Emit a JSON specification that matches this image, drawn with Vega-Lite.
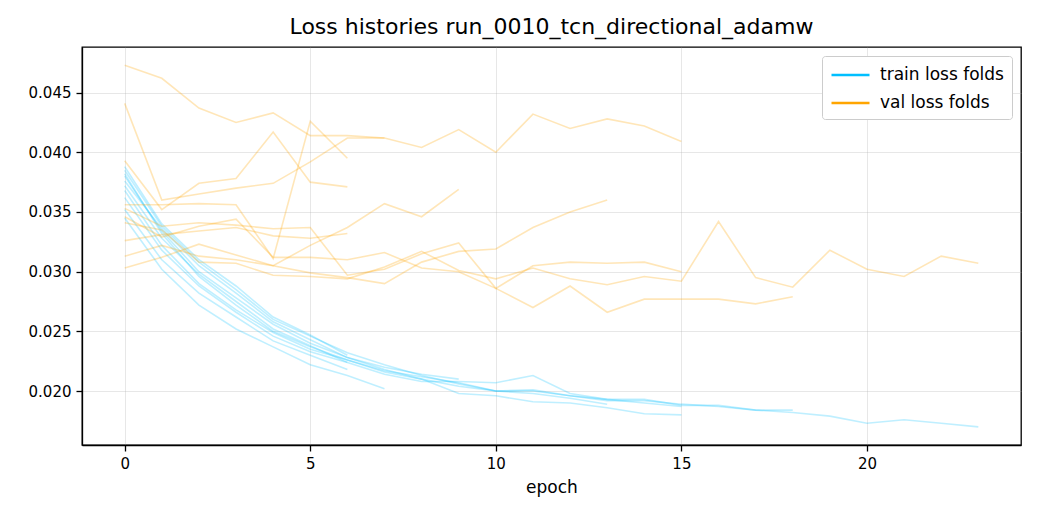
{
  "$schema": "https://vega.github.io/schema/vega-lite/v6.json",
  "width": 939,
  "height": 398,
  "autosize": {"type": "none"},
  "padding": {"left": 82, "top": 47, "right": 19, "bottom": 75},
  "title": {"text": "Loss histories run_0010_tcn_directional_adamw", "fontSize": 22, "fontWeight": "normal", "color": "black", "frame": "group", "offset": 8},
  "datasets": {
    "train": [
      {"fold":1,"epoch":0,"loss":0.0380},{"fold":1,"epoch":1,"loss":0.0334},{"fold":1,"epoch":2,"loss":0.0300},{"fold":1,"epoch":3,"loss":0.0278},{"fold":1,"epoch":4,"loss":0.0256},{"fold":1,"epoch":5,"loss":0.0240},{"fold":1,"epoch":6,"loss":0.0228},{"fold":1,"epoch":7,"loss":0.0218},{"fold":1,"epoch":8,"loss":0.0210},{"fold":1,"epoch":9,"loss":0.0198},{"fold":1,"epoch":10,"loss":0.0196},{"fold":1,"epoch":11,"loss":0.0191},{"fold":1,"epoch":12,"loss":0.0190},{"fold":1,"epoch":13,"loss":0.0186},{"fold":1,"epoch":14,"loss":0.0181},{"fold":1,"epoch":15,"loss":0.0180},
      {"fold":2,"epoch":0,"loss":0.0345},{"fold":2,"epoch":1,"loss":0.0302},{"fold":2,"epoch":2,"loss":0.0272},{"fold":2,"epoch":3,"loss":0.0252},{"fold":2,"epoch":4,"loss":0.0237},{"fold":2,"epoch":5,"loss":0.0222},{"fold":2,"epoch":6,"loss":0.0213},{"fold":2,"epoch":7,"loss":0.0202},
      {"fold":3,"epoch":0,"loss":0.0388},{"fold":3,"epoch":1,"loss":0.0340},{"fold":3,"epoch":2,"loss":0.0310},{"fold":3,"epoch":3,"loss":0.0288},{"fold":3,"epoch":4,"loss":0.0262},{"fold":3,"epoch":5,"loss":0.0247},{"fold":3,"epoch":6,"loss":0.0230},
      {"fold":4,"epoch":0,"loss":0.0372},{"fold":4,"epoch":1,"loss":0.0328},{"fold":4,"epoch":2,"loss":0.0298},{"fold":4,"epoch":3,"loss":0.0275},{"fold":4,"epoch":4,"loss":0.0252},{"fold":4,"epoch":5,"loss":0.0238},{"fold":4,"epoch":6,"loss":0.0224},
      {"fold":5,"epoch":0,"loss":0.0352},{"fold":5,"epoch":1,"loss":0.0310},{"fold":5,"epoch":2,"loss":0.0282},{"fold":5,"epoch":3,"loss":0.0262},{"fold":5,"epoch":4,"loss":0.0242},{"fold":5,"epoch":5,"loss":0.0230},{"fold":5,"epoch":6,"loss":0.0218},
      {"fold":6,"epoch":0,"loss":0.0376},{"fold":6,"epoch":1,"loss":0.0336},{"fold":6,"epoch":2,"loss":0.0305},{"fold":6,"epoch":3,"loss":0.0282},{"fold":6,"epoch":4,"loss":0.0258},{"fold":6,"epoch":5,"loss":0.0243},{"fold":6,"epoch":6,"loss":0.0228},{"fold":6,"epoch":7,"loss":0.0220},{"fold":6,"epoch":8,"loss":0.0214},{"fold":6,"epoch":9,"loss":0.0210},
      {"fold":7,"epoch":0,"loss":0.0385},{"fold":7,"epoch":1,"loss":0.0338},{"fold":7,"epoch":2,"loss":0.0308},{"fold":7,"epoch":3,"loss":0.0285},{"fold":7,"epoch":4,"loss":0.0260},{"fold":7,"epoch":5,"loss":0.0246},{"fold":7,"epoch":6,"loss":0.0232},{"fold":7,"epoch":7,"loss":0.0222},{"fold":7,"epoch":8,"loss":0.0213},{"fold":7,"epoch":9,"loss":0.0206},{"fold":7,"epoch":10,"loss":0.0200},{"fold":7,"epoch":11,"loss":0.0198},{"fold":7,"epoch":12,"loss":0.0194},{"fold":7,"epoch":13,"loss":0.0189},
      {"fold":8,"epoch":0,"loss":0.0382},{"fold":8,"epoch":1,"loss":0.0332},{"fold":8,"epoch":2,"loss":0.0296},{"fold":8,"epoch":3,"loss":0.0272},{"fold":8,"epoch":4,"loss":0.0250},{"fold":8,"epoch":5,"loss":0.0237},{"fold":8,"epoch":6,"loss":0.0226},{"fold":8,"epoch":7,"loss":0.0217},{"fold":8,"epoch":8,"loss":0.0212},{"fold":8,"epoch":9,"loss":0.0207},{"fold":8,"epoch":10,"loss":0.0200},{"fold":8,"epoch":11,"loss":0.0201},{"fold":8,"epoch":12,"loss":0.0196},{"fold":8,"epoch":13,"loss":0.0193},{"fold":8,"epoch":14,"loss":0.0193},{"fold":8,"epoch":15,"loss":0.0188},{"fold":8,"epoch":16,"loss":0.0188},{"fold":8,"epoch":17,"loss":0.0184},{"fold":8,"epoch":18,"loss":0.0184},
      {"fold":9,"epoch":0,"loss":0.0368},{"fold":9,"epoch":1,"loss":0.0322},{"fold":9,"epoch":2,"loss":0.0290},{"fold":9,"epoch":3,"loss":0.0268},{"fold":9,"epoch":4,"loss":0.0249},{"fold":9,"epoch":5,"loss":0.0235},{"fold":9,"epoch":6,"loss":0.0226},{"fold":9,"epoch":7,"loss":0.0216},{"fold":9,"epoch":8,"loss":0.0210},{"fold":9,"epoch":9,"loss":0.0204},{"fold":9,"epoch":10,"loss":0.0200},{"fold":9,"epoch":11,"loss":0.0200},{"fold":9,"epoch":12,"loss":0.0196},{"fold":9,"epoch":13,"loss":0.0192},{"fold":9,"epoch":14,"loss":0.0192},{"fold":9,"epoch":15,"loss":0.0189},{"fold":9,"epoch":16,"loss":0.0187},{"fold":9,"epoch":17,"loss":0.0184},{"fold":9,"epoch":18,"loss":0.0182},{"fold":9,"epoch":19,"loss":0.0179},{"fold":9,"epoch":20,"loss":0.0173},{"fold":9,"epoch":21,"loss":0.0176},{"fold":9,"epoch":22,"loss":0.0173},{"fold":9,"epoch":23,"loss":0.0170},
      {"fold":10,"epoch":0,"loss":0.0362},{"fold":10,"epoch":1,"loss":0.0318},{"fold":10,"epoch":2,"loss":0.0288},{"fold":10,"epoch":3,"loss":0.0266},{"fold":10,"epoch":4,"loss":0.0246},{"fold":10,"epoch":5,"loss":0.0233},{"fold":10,"epoch":6,"loss":0.0224},{"fold":10,"epoch":7,"loss":0.0214},{"fold":10,"epoch":8,"loss":0.0208},{"fold":10,"epoch":9,"loss":0.0208},{"fold":10,"epoch":10,"loss":0.0207},{"fold":10,"epoch":11,"loss":0.0213},{"fold":10,"epoch":12,"loss":0.0198},{"fold":10,"epoch":13,"loss":0.0193},{"fold":10,"epoch":14,"loss":0.0190},{"fold":10,"epoch":15,"loss":0.0187}
    ],
    "val": [
      {"fold":1,"epoch":0,"loss":0.0473},{"fold":1,"epoch":1,"loss":0.0462},{"fold":1,"epoch":2,"loss":0.0437},{"fold":1,"epoch":3,"loss":0.0425},{"fold":1,"epoch":4,"loss":0.0433},{"fold":1,"epoch":5,"loss":0.0414},{"fold":1,"epoch":6,"loss":0.0414},{"fold":1,"epoch":7,"loss":0.0412},{"fold":1,"epoch":8,"loss":0.0404},{"fold":1,"epoch":9,"loss":0.0419},{"fold":1,"epoch":10,"loss":0.0400},{"fold":1,"epoch":11,"loss":0.0432},{"fold":1,"epoch":12,"loss":0.0420},{"fold":1,"epoch":13,"loss":0.0428},{"fold":1,"epoch":14,"loss":0.0422},{"fold":1,"epoch":15,"loss":0.0409},
      {"fold":2,"epoch":0,"loss":0.0441},{"fold":2,"epoch":1,"loss":0.0360},{"fold":2,"epoch":2,"loss":0.0365},{"fold":2,"epoch":3,"loss":0.0370},{"fold":2,"epoch":4,"loss":0.0374},{"fold":2,"epoch":5,"loss":0.0392},{"fold":2,"epoch":6,"loss":0.0412},{"fold":2,"epoch":7,"loss":0.0412},
      {"fold":3,"epoch":0,"loss":0.0393},{"fold":3,"epoch":1,"loss":0.0352},{"fold":3,"epoch":2,"loss":0.0374},{"fold":3,"epoch":3,"loss":0.0378},{"fold":3,"epoch":4,"loss":0.0417},{"fold":3,"epoch":5,"loss":0.0375},{"fold":3,"epoch":6,"loss":0.0371},
      {"fold":4,"epoch":0,"loss":0.0356},{"fold":4,"epoch":1,"loss":0.0356},{"fold":4,"epoch":2,"loss":0.0357},{"fold":4,"epoch":3,"loss":0.0356},{"fold":4,"epoch":4,"loss":0.0311},{"fold":4,"epoch":5,"loss":0.0426},{"fold":4,"epoch":6,"loss":0.0395},
      {"fold":5,"epoch":0,"loss":0.0326},{"fold":5,"epoch":1,"loss":0.0331},{"fold":5,"epoch":2,"loss":0.0334},{"fold":5,"epoch":3,"loss":0.0337},{"fold":5,"epoch":4,"loss":0.0330},{"fold":5,"epoch":5,"loss":0.0328},{"fold":5,"epoch":6,"loss":0.0332},
      {"fold":6,"epoch":0,"loss":0.0303},{"fold":6,"epoch":1,"loss":0.0312},{"fold":6,"epoch":2,"loss":0.0323},{"fold":6,"epoch":3,"loss":0.0314},{"fold":6,"epoch":4,"loss":0.0305},{"fold":6,"epoch":5,"loss":0.0322},{"fold":6,"epoch":6,"loss":0.0337},{"fold":6,"epoch":7,"loss":0.0357},{"fold":6,"epoch":8,"loss":0.0346},{"fold":6,"epoch":9,"loss":0.0369},
      {"fold":7,"epoch":0,"loss":0.0313},{"fold":7,"epoch":1,"loss":0.0322},{"fold":7,"epoch":2,"loss":0.0313},{"fold":7,"epoch":3,"loss":0.0310},{"fold":7,"epoch":4,"loss":0.0305},{"fold":7,"epoch":5,"loss":0.0299},{"fold":7,"epoch":6,"loss":0.0295},{"fold":7,"epoch":7,"loss":0.0290},{"fold":7,"epoch":8,"loss":0.0308},{"fold":7,"epoch":9,"loss":0.0317},{"fold":7,"epoch":10,"loss":0.0319},{"fold":7,"epoch":11,"loss":0.0337},{"fold":7,"epoch":12,"loss":0.0350},{"fold":7,"epoch":13,"loss":0.0360},
      {"fold":8,"epoch":0,"loss":0.0346},{"fold":8,"epoch":1,"loss":0.0329},{"fold":8,"epoch":2,"loss":0.0338},{"fold":8,"epoch":3,"loss":0.0344},{"fold":8,"epoch":4,"loss":0.0312},{"fold":8,"epoch":5,"loss":0.0312},{"fold":8,"epoch":6,"loss":0.0310},{"fold":8,"epoch":7,"loss":0.0316},{"fold":8,"epoch":8,"loss":0.0303},{"fold":8,"epoch":9,"loss":0.0300},{"fold":8,"epoch":10,"loss":0.0286},{"fold":8,"epoch":11,"loss":0.0270},{"fold":8,"epoch":12,"loss":0.0288},{"fold":8,"epoch":13,"loss":0.0266},{"fold":8,"epoch":14,"loss":0.0277},{"fold":8,"epoch":15,"loss":0.0277},{"fold":8,"epoch":16,"loss":0.0277},{"fold":8,"epoch":17,"loss":0.0273},{"fold":8,"epoch":18,"loss":0.0279},
      {"fold":9,"epoch":0,"loss":0.0341},{"fold":9,"epoch":1,"loss":0.0335},{"fold":9,"epoch":2,"loss":0.0308},{"fold":9,"epoch":3,"loss":0.0307},{"fold":9,"epoch":4,"loss":0.0297},{"fold":9,"epoch":5,"loss":0.0296},{"fold":9,"epoch":6,"loss":0.0294},{"fold":9,"epoch":7,"loss":0.0304},{"fold":9,"epoch":8,"loss":0.0317},{"fold":9,"epoch":9,"loss":0.0301},{"fold":9,"epoch":10,"loss":0.0294},{"fold":9,"epoch":11,"loss":0.0303},{"fold":9,"epoch":12,"loss":0.0294},{"fold":9,"epoch":13,"loss":0.0289},{"fold":9,"epoch":14,"loss":0.0296},{"fold":9,"epoch":15,"loss":0.0292},{"fold":9,"epoch":16,"loss":0.0342},{"fold":9,"epoch":17,"loss":0.0295},{"fold":9,"epoch":18,"loss":0.0287},{"fold":9,"epoch":19,"loss":0.0318},{"fold":9,"epoch":20,"loss":0.0302},{"fold":9,"epoch":21,"loss":0.0296},{"fold":9,"epoch":22,"loss":0.0313},{"fold":9,"epoch":23,"loss":0.0307},
      {"fold":10,"epoch":0,"loss":0.0353},{"fold":10,"epoch":1,"loss":0.0338},{"fold":10,"epoch":2,"loss":0.0341},{"fold":10,"epoch":3,"loss":0.0339},{"fold":10,"epoch":4,"loss":0.0336},{"fold":10,"epoch":5,"loss":0.0337},{"fold":10,"epoch":6,"loss":0.0297},{"fold":10,"epoch":7,"loss":0.0302},{"fold":10,"epoch":8,"loss":0.0315},{"fold":10,"epoch":9,"loss":0.0324},{"fold":10,"epoch":10,"loss":0.0286},{"fold":10,"epoch":11,"loss":0.0305},{"fold":10,"epoch":12,"loss":0.0308},{"fold":10,"epoch":13,"loss":0.0307},{"fold":10,"epoch":14,"loss":0.0308},{"fold":10,"epoch":15,"loss":0.0300}
    ]
  },
  "encoding": {
    "x": {
      "field": "epoch", "type": "quantitative", "title": "epoch",
      "scale": {"domain": [-1.15, 24.15], "nice": false, "zero": false},
      "axis": {"values": [0, 5, 10, 15, 20], "grid": true}
    },
    "y": {
      "field": "loss", "type": "quantitative", "title": null,
      "scale": {"domain": [0.01548, 0.04882], "nice": false, "zero": false},
      "axis": {"values": [0.020, 0.025, 0.030, 0.035, 0.040, 0.045], "format": ".3f", "grid": true}
    },
    "detail": {"field": "fold", "type": "nominal"},
    "color": {
      "scale": {"domain": ["train loss folds", "val loss folds"], "range": ["#00bfff", "#ffa500"]},
      "legend": {
        "title": null, "orient": "top-right", "offset": 9, "padding": 8,
        "strokeColor": "#cccccc", "fillColor": "white", "cornerRadius": 3,
        "labelFontSize": 17, "labelColor": "black", "labelOffset": 28, "rowPadding": 9,
        "symbolType": "M-1,0H3", "symbolSize": 361, "symbolStrokeWidth": 2.6, "symbolOpacity": 1
      }
    }
  },
  "layer": [
    {
      "data": {"name": "train"},
      "mark": {"type": "line", "strokeWidth": 1.6, "strokeOpacity": 0.25},
      "encoding": {"color": {"datum": "train loss folds"}}
    },
    {
      "data": {"name": "val"},
      "mark": {"type": "line", "strokeWidth": 1.6, "strokeOpacity": 0.28},
      "encoding": {"color": {"datum": "val loss folds"}}
    }
  ],
  "config": {
    "font": "DejaVu Sans",
    "view": {"stroke": "black", "strokeWidth": 1.3},
    "axis": {
      "labelFontSize": 15, "titleFontSize": 17, "titleFontWeight": "normal",
      "labelColor": "black", "titleColor": "black",
      "tickSize": 6, "tickWidth": 1.3, "tickColor": "black",
      "domainColor": "black", "domainWidth": 1.3,
      "labelPadding": 5, "titlePadding": 8,
      "gridColor": "#b0b0b0", "gridOpacity": 0.3, "gridWidth": 1
    }
  }
}
